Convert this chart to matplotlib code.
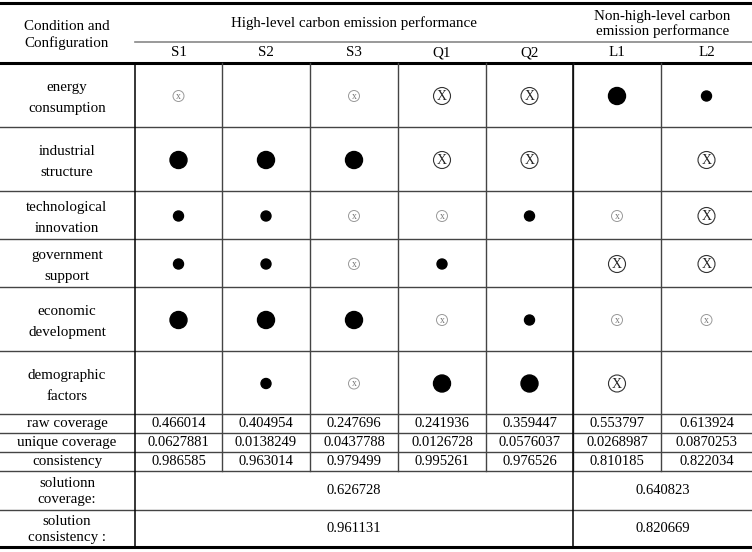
import numpy as np
import matplotlib.pyplot as plt
from matplotlib.patches import Circle

# table contents
conditions = ['energy\nconsumption', 'industrial\nstructure', 'technological\ninnovation',
              'government\nsupport', 'economic\ndevelopment', 'demographic\nfactors']
configs = ['S1', 'S2', 'S3', 'Q1', 'Q2', 'L1', 'L2']
# B = core present, b = peripheral present, X = core absent, x = peripheral absent
marks = [
    ['x', '', 'x', 'X', 'X', 'B', 'b'],
    ['B', 'B', 'B', 'X', 'X', '', 'X'],
    ['b', 'b', 'x', 'x', 'b', 'x', 'X'],
    ['b', 'b', 'x', 'b', '', 'X', 'X'],
    ['B', 'B', 'B', 'x', 'b', 'x', 'x'],
    ['', 'b', 'x', 'B', 'B', 'X', ''],
]
raw_coverage = ['0.466014', '0.404954', '0.247696', '0.241936', '0.359447', '0.553797', '0.613924']
unique_coverage = ['0.0627881', '0.0138249', '0.0437788', '0.0126728', '0.0576037', '0.0268987', '0.0870253']
consistency = ['0.986585', '0.963014', '0.979499', '0.995261', '0.976526', '0.810185', '0.822034']
solution_coverage = ['0.626728', '0.640823']
solution_consistency = ['0.961131', '0.820669']

# layout (pixels)
col_edges = [135, 222, 310, 398, 486, 573, 661, 752]
row_edges = [63, 127, 191, 239, 287, 351, 414]
stat_edges = [414, 433, 452, 471]
sol_edges = [471, 510, 547]
group_split = 5  # index of first non-high-level column

fig = plt.figure(figsize=(7.52, 5.52), dpi=100)
ax = fig.add_axes([0, 0, 1, 1])
ax.set_xlim(0, 752)
ax.set_ylim(552, 0)
ax.axis('off')

FONT = 'Liberation Serif'
FS = 10.8
NFS = 10.5
thin = dict(color='#444444', lw=1.0)
thick = dict(color='black', lw=2.2)

# header
ax.text(67, 35, 'Condition and\nConfiguration', ha='center', va='center', family=FONT,
        fontsize=FS, linespacing=1.25)
ax.text((col_edges[0] + col_edges[group_split]) / 2, 23, 'High-level carbon emission performance',
        ha='center', va='center', family=FONT, fontsize=FS)
ax.text((col_edges[group_split] + col_edges[-1]) / 2, 24, 'Non-high-level carbon\nemission performance',
        ha='center', va='center', family=FONT, fontsize=FS, linespacing=1.2)
centers = [(col_edges[i] + col_edges[i + 1]) / 2 for i in range(len(configs))]
for c, lab in zip(centers, configs):
    ax.text(c, 53, lab, ha='center', va='center', family=FONT, fontsize=FS)

ax.plot([0, 752], [3, 3], **thick)
ax.plot([col_edges[0], 752], [42, 42], color='#888888', lw=1.2)
ax.plot([0, 752], [63, 63], **thick)

# condition rows
for r, cond in enumerate(conditions):
    y0, y1 = row_edges[r], row_edges[r + 1]
    yc = (y0 + y1) / 2
    ax.text(67, yc + 3, cond, ha='center', va='center', family=FONT, fontsize=FS, linespacing=1.8)
    for c, m in enumerate(marks[r]):
        x = centers[c]
        ym = yc + 1
        if m == 'B':
            ax.add_patch(Circle((x, ym), 8.5, color='black'))
        elif m == 'b':
            ax.add_patch(Circle((x, ym), 5, color='black'))
        elif m == 'X':
            ax.add_patch(Circle((x, ym), 8.5, fill=False, ec='#333333', lw=0.8))
            ax.text(x, ym + 0.5, 'X', ha='center', va='center', family=FONT, fontsize=10, color='#222222')
        elif m == 'x':
            ax.add_patch(Circle((x, ym), 5.5, fill=False, ec='#999999', lw=0.7))
            ax.text(x, ym + 0.5, 'x', ha='center', va='center', family=FONT, fontsize=7, color='#777777')
    if r > 0:
        ax.plot([0, 752], [y0, y0], **thin)

# statistic rows
stats = [('raw coverage', raw_coverage), ('unique coverage', unique_coverage), ('consistency', consistency)]
for i, (lab, vals) in enumerate(stats):
    y0, y1 = stat_edges[i], stat_edges[i + 1]
    yc = (y0 + y1) / 2
    ax.text(67, yc, lab, ha='center', va='center', family=FONT, fontsize=FS)
    for c, v in zip(centers, vals):
        ax.text(c, yc, v, ha='center', va='center', family=FONT, fontsize=NFS)
    ax.plot([0, 752], [y0, y0], **thin)
ax.plot([0, 752], [stat_edges[-1], stat_edges[-1]], **thin)

# solution rows
sol = [('solutionn\ncoverage:', solution_coverage), ('solution\nconsistency :', solution_consistency)]
for i, (lab, vals) in enumerate(sol):
    y0, y1 = sol_edges[i], sol_edges[i + 1]
    yc = (y0 + y1) / 2
    ax.text(67, yc + 1, lab, ha='center', va='center', family=FONT, fontsize=FS, linespacing=1.35)
    ax.text((col_edges[0] + col_edges[group_split]) / 2, yc, vals[0], ha='center', va='center',
            family=FONT, fontsize=NFS)
    ax.text((col_edges[group_split] + col_edges[-1]) / 2, yc, vals[1], ha='center', va='center',
            family=FONT, fontsize=NFS)
    if i > 0:
        ax.plot([0, 752], [y0, y0], **thin)
ax.plot([0, 752], [sol_edges[-1], sol_edges[-1]], **thick)

# vertical lines
for x in col_edges[1:-1]:
    ax.plot([x, x], [row_edges[0], stat_edges[-1]], **thin)
for x in [col_edges[0], col_edges[group_split]]:
    ax.plot([x, x], [row_edges[0], sol_edges[-1]], color='black', lw=1.1)

fig.savefig('out.png', dpi=100)
